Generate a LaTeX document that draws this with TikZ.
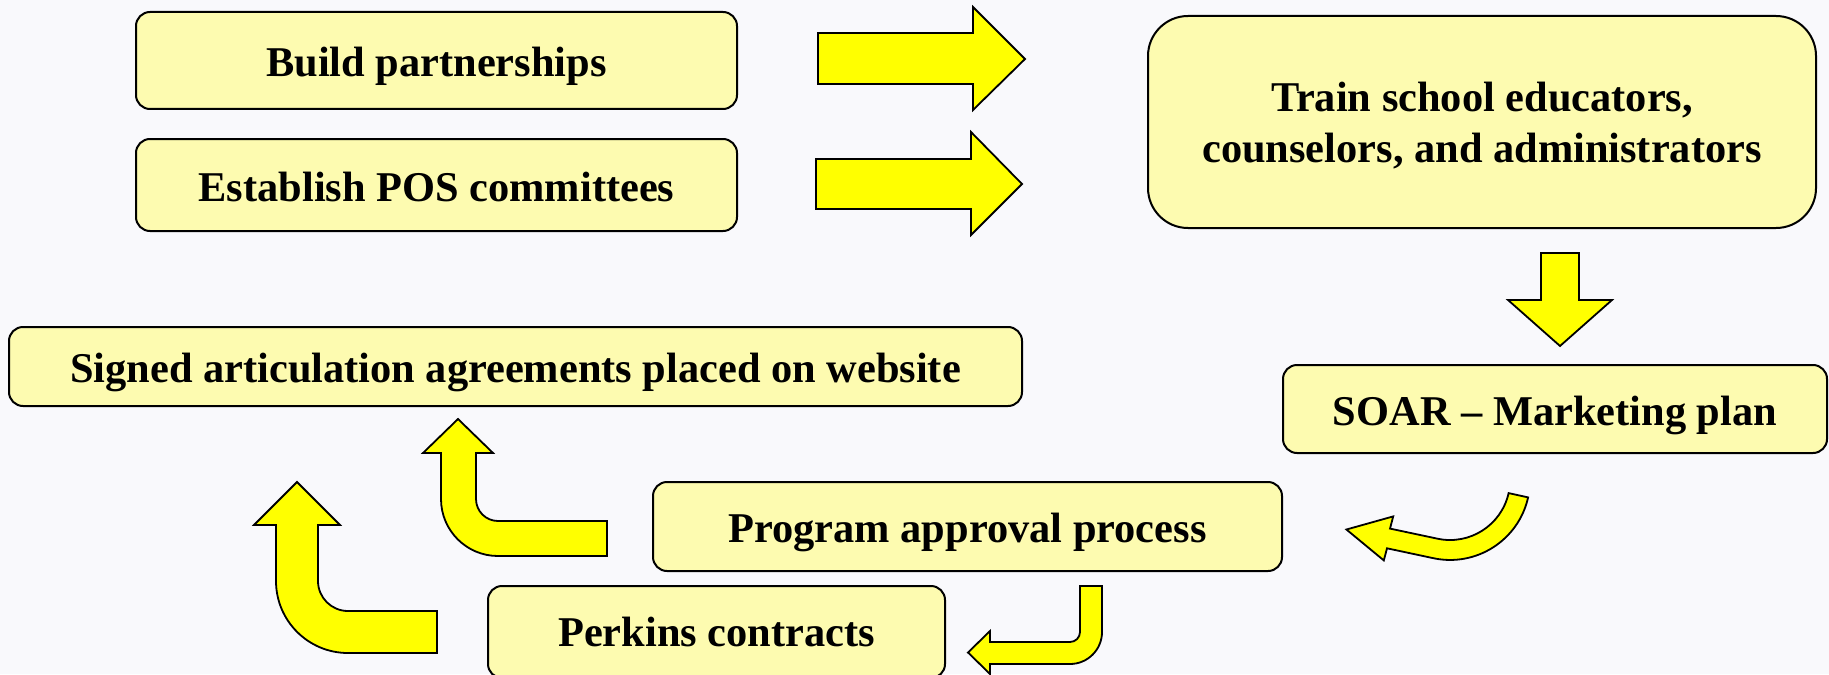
\documentclass[tikz,border=0pt]{standalone}
\usepackage{fontspec}
\setmainfont{Liberation Serif}
\usepackage{tikz}

\definecolor{boxfill}{RGB}{253,251,176}
\definecolor{arrowfill}{RGB}{255,255,0}
\definecolor{pagebg}{RGB}{249,249,252}

\begin{document}
\begin{tikzpicture}[x=0.5pt,y=-0.5pt]
	\tikzstyle{box}=[draw=black,line width=1pt,fill=boxfill,rounded corners=7pt,inner sep=0pt,font=\bfseries\fontsize{21.2}{25.5}\selectfont,align=center]
	\tikzstyle{lowbox}=[box,text height=16pt,text depth=0pt]
	\tikzstyle{bigbox}=[box,rounded corners=20pt,text depth=0pt]
	\tikzstyle{blockarrow}=[draw=black,line width=0.9pt,fill=arrowfill,line join=miter]
	% page
	\fill[pagebg] (0,0) rectangle (1829,674);
	\useasboundingbox (0,0) rectangle (1829,674);
	% top row
	\node[lowbox,minimum width=300.5pt,minimum height=48.5pt] (build)	at (436.5,60.5)	{Build partnerships};
	\node[lowbox,minimum width=300.5pt,minimum height=46pt] (pos)	at (436.5,185)	{Establish POS committees};
	\node[bigbox,minimum width=334pt,minimum height=106pt] (train)	at (1482,122)	{Train school educators,\\counselors, and administrators};
	% middle row
	\node[lowbox,minimum width=506.5pt,minimum height=39.5pt] (signed)	at (515.5,366.5)	{Signed articulation agreements placed on website};
	\node[lowbox,minimum width=272pt,minimum height=44pt] (soar)	at (1555,409)	{SOAR -- Marketing plan};
	% bottom row
	\node[lowbox,minimum width=314.5pt,minimum height=44.5pt] (approval)	at (967.5,526.5)	{Program approval process};
	\node[box,minimum width=228.5pt,minimum height=46pt] (perkins)	at (716.5,632)	{Perkins contracts};
	% straight arrows
	\filldraw[blockarrow] (818,33) -- (973,33) -- (973,7) -- (1025,59) -- (973,110) -- (973,84) -- (818,84) -- cycle;
	\filldraw[blockarrow] (816,159) -- (971,159) -- (971,132) -- (1022,184) -- (971,235) -- (971,209) -- (816,209) -- cycle;
	\filldraw[blockarrow] (1541,253) -- (1579,253) -- (1579,300) -- (1612,300) -- (1560,346) -- (1508,300) -- (1541,300) -- cycle;
	% bent arrows
	\filldraw[blockarrow] (1508.6,493.1) arc (12.6:102:60) -- (1390,528.6) -- (1393.2,516.4) -- (1346.4,529.5)
		-- (1383.8,560.4) -- (1387,548.3) -- (1433.4,558.2) arc (102:12.6:80) -- cycle;
	\filldraw[blockarrow] (1080,586) -- (1080,632) arc (0:90:10) -- (990,642) -- (990,631) -- (968,652.5)
		-- (990,674) -- (990,664) -- (1070,664) arc (90:0:32) -- (1102,586) -- cycle;
	\filldraw[blockarrow] (607,521) -- (498,521) arc (90:180:22) -- (476,453) -- (493,453) -- (458,419)
		-- (423,453) -- (441,453) -- (441,499) arc (180:90:57) -- (607,556) -- cycle;
	\filldraw[blockarrow] (437,611) -- (348,611) arc (90:180:30) -- (318,525) -- (340,525) -- (297,482)
		-- (254,525) -- (276,525) -- (276,581) arc (180:90:72) -- (437,653) -- cycle;
\end{tikzpicture}
\end{document}
